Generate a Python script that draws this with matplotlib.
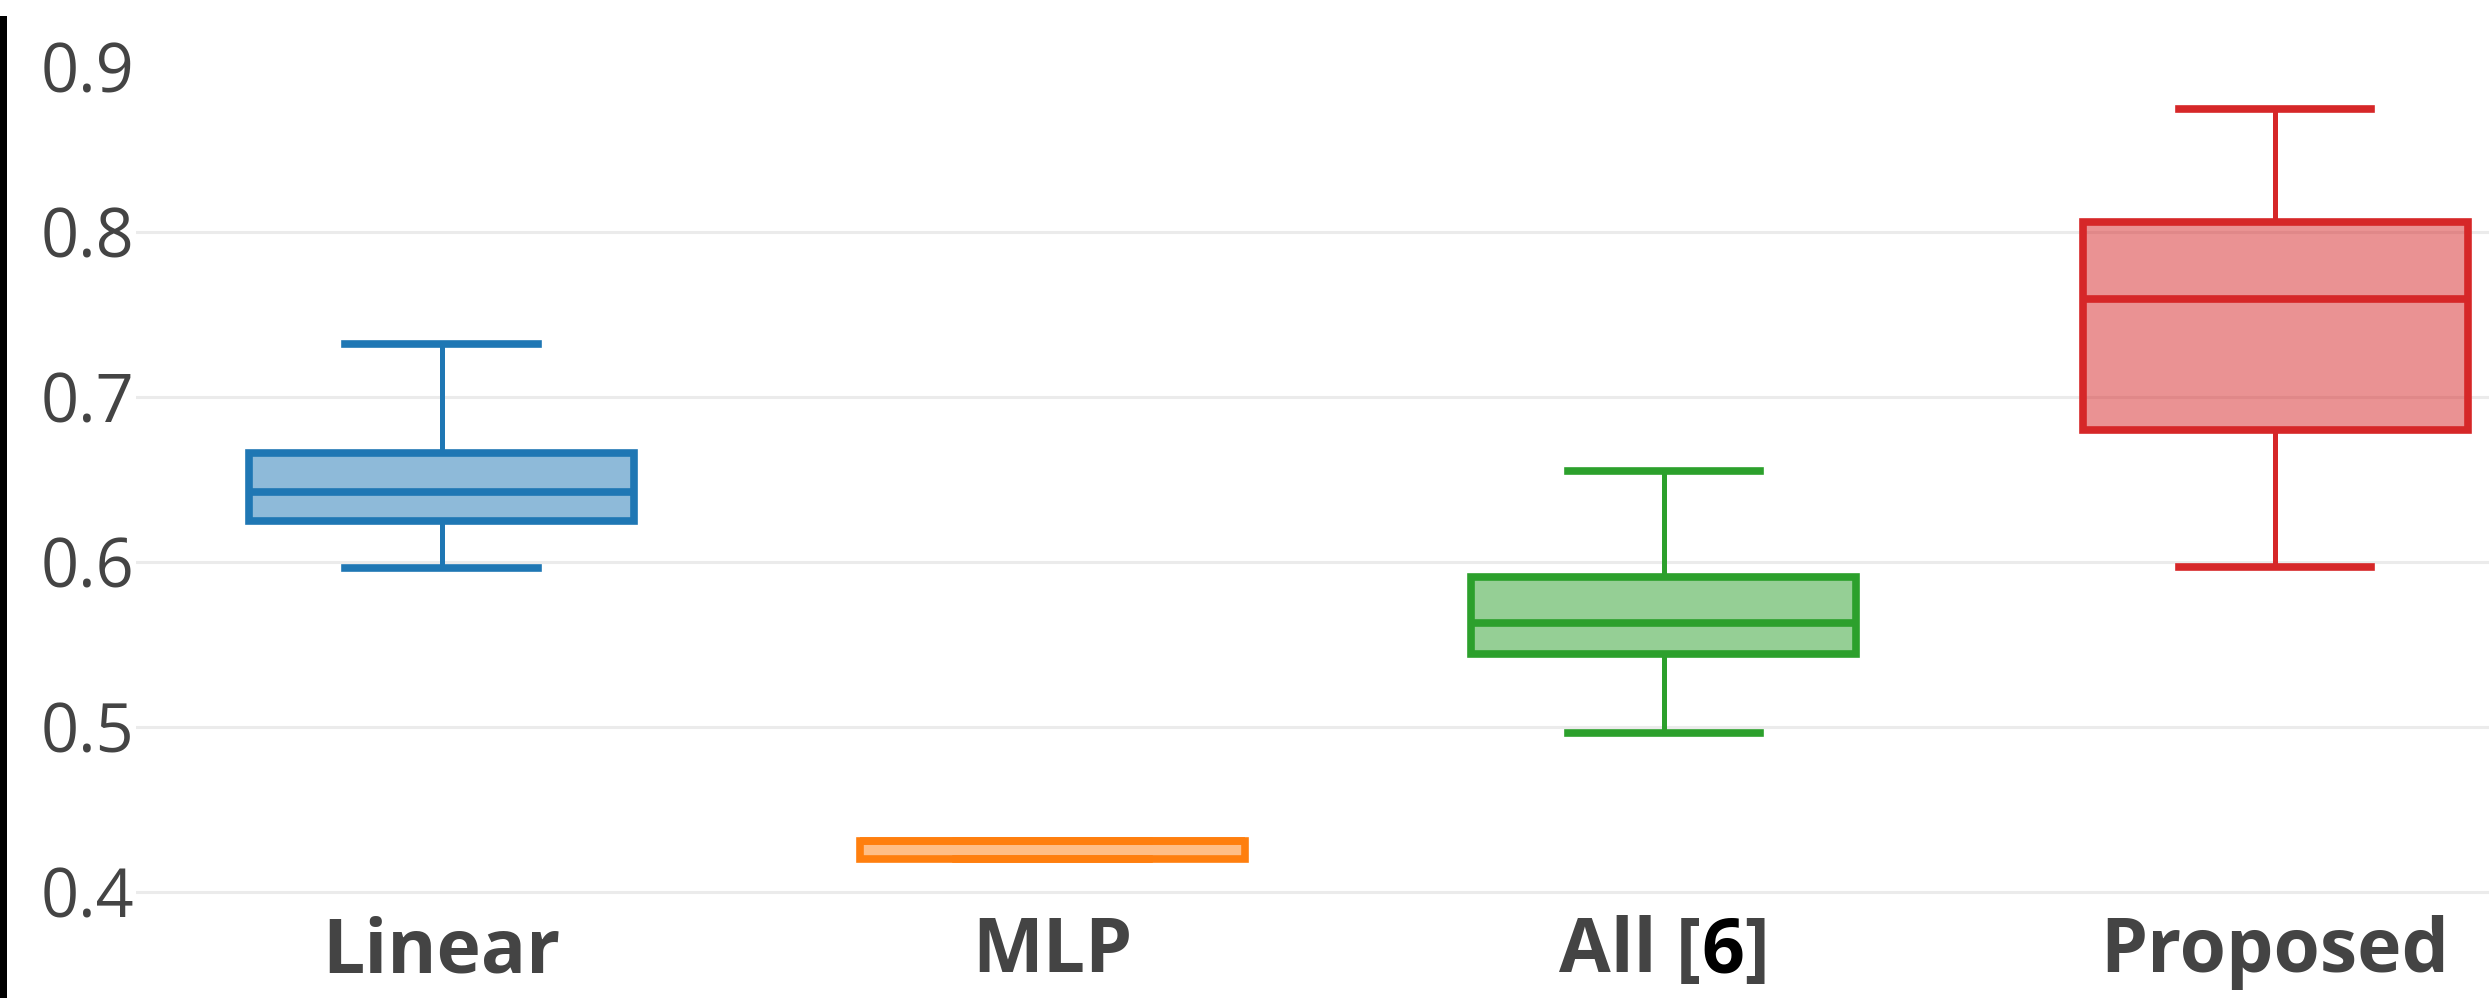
import matplotlib
matplotlib.use('Agg')
import matplotlib.pyplot as plt
from matplotlib.patches import Rectangle
from matplotlib.offsetbox import TextArea, HPacker, AnnotationBbox
from matplotlib.transforms import blended_transform_factory

plt.rcParams['font.family'] = ['Open Sans', 'DejaVu Sans']

# box statistics
labels = ['Linear', 'MLP', 'All [6]', 'Proposed']
whislo = [0.596, 0.420, 0.496, 0.597]
q1 = [0.625, 0.420, 0.544, 0.680]
med = [0.642, 0.431, 0.563, 0.759]
q3 = [0.666, 0.431, 0.591, 0.806]
whishi = [0.732, 0.431, 0.655, 0.874]
colors = ['#1f77b4', '#ff7f0e', '#2ca02c', '#d62728']
yticks = [0.4, 0.5, 0.6, 0.7, 0.8, 0.9]

W, H = 2489, 998
fig = plt.figure(figsize=(W / 100, H / 100), dpi=100)
ax = fig.add_axes([136 / W, 0.0897, 1 - 136 / W, 0.885])

for i in range(len(labels)):
    st = [dict(label=labels[i], whislo=whislo[i], q1=q1[i], med=med[i],
               q3=q3[i], whishi=whishi[i], fliers=[])]
    c = colors[i]
    bp = ax.bxp(st, positions=[i], widths=0.63, patch_artist=True,
                showfliers=False,
                boxprops=dict(facecolor=matplotlib.colors.to_rgba(c, 0.5), edgecolor=c, linewidth=5.5),
                medianprops=dict(color=c, linewidth=5.5, solid_capstyle='butt'),
                whiskerprops=dict(color=c, linewidth=3.6),
                capprops=dict(color=c, linewidth=5.5),
                capwidths=0.315)
    for b in bp['boxes']:
        b.set_zorder(3)

ax.set_xlim(-0.5, 3.35)
ax.set_ylim(0.39, 0.925)
ax.set_yticks(yticks)
ax.set_yticklabels([str(v) for v in yticks])
# gridlines, except at the top tick
for v in yticks[:-1]:
    ax.axhline(v, color='#ebebeb', linewidth=2.2, zorder=0)
ax.tick_params(axis='y', length=0, pad=1, labelsize=48, labelcolor='#444444')
ax.tick_params(axis='x', length=0, pad=5, labelsize=54, labelcolor='#444444')
for s in ax.spines.values():
    s.set_visible(False)

ax.set_xticks(range(len(labels)))
ax.set_xticklabels(['Linear', 'MLP', '', 'Proposed'], fontweight='bold')

# the "All [6]" label with the black citation number
tp = dict(fontsize=54, fontweight='bold', color='#444444')
pack = HPacker(children=[TextArea('All [', textprops=tp),
                         TextArea('6', textprops=dict(tp, color='black')),
                         TextArea(']', textprops=tp)],
               align='baseline', pad=0, sep=0)
trans = blended_transform_factory(ax.transData, ax.transAxes)
ab = AnnotationBbox(pack, (2, 0), xycoords=trans, xybox=(0, -5),
                    boxcoords='offset points', box_alignment=(0.5, 1),
                    frameon=False, annotation_clip=False)
ax.add_artist(ab)

fig.add_artist(Rectangle((0, 0), 7 / W, (H - 16) / H, transform=fig.transFigure,
                         facecolor='black', edgecolor='none'))

fig.savefig('out.png', dpi=100)
